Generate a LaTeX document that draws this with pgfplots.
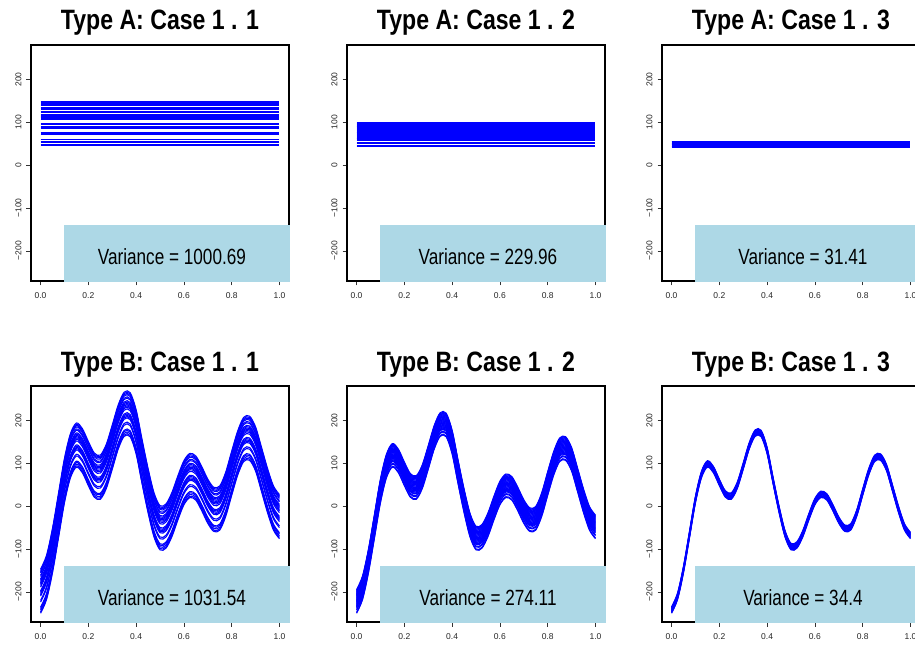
\documentclass[border=0pt]{standalone}
\usepackage{pgfplots}
\pgfplotsset{compat=1.18}
\usepackage{pgfplotstable}
\usepackage{fontspec}
\setmainfont{Liberation Sans}
\newfontfamily\titlefont[FakeStretch=0.825]{Liberation Sans}
\newfontfamily\varfont[FakeStretch=0.78]{Liberation Sans}
\definecolor{lb}{RGB}{173,216,230}
\definecolor{rblue}{RGB}{0,0,255}

% lowest curve of the Type B bundles
\pgfplotstableread{
t b
0 -250
0.025 -218
0.05 -155
0.075 -74
0.1 8
0.125 66
0.15 91
0.175 78
0.2 48
0.225 21
0.25 16
0.275 41
0.3 86
0.325 133
0.35 163
0.375 162
0.4 122
0.425 52
0.45 -15
0.475 -72
0.5 -102
0.525 -98
0.55 -71
0.575 -32
0.6 3
0.625 20
0.65 14
0.675 -11
0.7 -40
0.725 -59
0.75 -56
0.775 -24
0.8 25
0.825 72
0.85 104
0.875 107
0.9 82
0.925 34
0.95 -15
0.975 -56
1.0 -76
}\basecurve

\pgfplotsset{
  panel/.style={
    scale only axis, width=258pt, height=236pt,
    xmin=-0.04, xmax=1.04, ymin=-270.4, ymax=280.4,
    clip=false,
    axis line style={line width=2.4pt},
    xtick={0,0.2,0.4,0.6,0.8,1},
    xticklabels={0.0,0.2,0.4,0.6,0.8,1.0},
    ytick={-200,-100,0,100,200},
    yticklabels={−200,−100,0,100,200},
    tick align=outside, xtick pos=bottom, ytick pos=left,
    major tick length=4.5pt,
    tick style={line width=0.6pt, black!80},
    xticklabel shift=4pt,
    yticklabel shift=1.5pt,
    ticklabel style={font=\fontsize{8.5}{9}\selectfont, text=black!85},
    xticklabel style={anchor=north},
    yticklabel style={rotate=90, anchor=south},
    title style={font=\titlefont\bfseries\fontsize{28}{30}\selectfont,
      anchor=base, at={(0.5,1)}, yshift=9pt},
  },
  hl/.style={rblue, line width=1.1pt, mark=none},
  cv/.style={rblue, line width=1.1pt, mark=none, smooth},
}

\newcommand{\varbox}[1]{%
  \fill[lb] (axis cs:0.1,-140) rectangle ([shift={(1.3pt,-1.3pt)}]rel axis cs:1,0);
  \node[font=\varfont\fontsize{22}{24}\selectfont, anchor=center] at (axis cs:0.55,-214) {#1};
}

\begin{document}
\begin{tikzpicture}[x=1pt,y=1pt]
% ---------- Type A ----------
\begin{axis}[panel, at={(31pt,601pt)}, anchor=north west, title={Type A: Case 1 . 1}]
\pgfplotsinvokeforeach{45,48,52,56,59,71,75,85,88,91,94,97,106,110,113,116,119,122,125,131,134,139,142,145,148}{
  \addplot[hl] coordinates {(0,#1) (1,#1)};
}
\varbox{Variance = 1000.69}
\end{axis}

\begin{axis}[panel, at={(347pt,601pt)}, anchor=north west, title={Type A: Case 1 . 2}]
\pgfplotsinvokeforeach{44,46,51,53,57,59,61,63,65,67,69,71,73,75,77,79,81,83,85,87,89,91,93,95,97,99}{
  \addplot[hl] coordinates {(0,#1) (1,#1)};
}
\varbox{Variance = 229.96}
\end{axis}

\begin{axis}[panel, at={(662pt,601pt)}, anchor=north west, title={Type A: Case 1 . 3}]
\pgfplotsinvokeforeach{41,42.5,44,45.5,47,48.5,50,51.5,53,54.5,56}{
  \addplot[hl] coordinates {(0,#1) (1,#1)};
}
\varbox{Variance = 31.41}
\end{axis}

% ---------- Type B ----------
\begin{axis}[panel, at={(31pt,260pt)}, anchor=north west, title={Type B: Case 1 . 1}]
\pgfplotsinvokeforeach{0,3,7,11,14,26,30,40,43,46,49,52,61,65,68,71,74,77,80,86,89,94,97,100,103}{
  \addplot[cv] table[x=t, y expr=\thisrow{b}+#1] {\basecurve};
}
\varbox{Variance = 1031.54}
\end{axis}

\begin{axis}[panel, at={(347pt,260pt)}, anchor=north west, title={Type B: Case 1 . 2}]
\pgfplotsinvokeforeach{0,2,7,9,13,15,17,19,21,23,25,27,29,31,33,35,37,39,41,43,45,47,49,51,53,55}{
  \addplot[cv] table[x=t, y expr=\thisrow{b}+#1] {\basecurve};
}
\varbox{Variance = 274.11}
\end{axis}

\begin{axis}[panel, at={(662pt,260pt)}, anchor=north west, title={Type B: Case 1 . 3}]
\pgfplotsinvokeforeach{0,1.5,3,4.5,6,7.5,9,10.5,12,13.5,15}{
  \addplot[cv] table[x=t, y expr=\thisrow{b}+#1] {\basecurve};
}
\varbox{Variance = 34.4}
\end{axis}

\pgfresetboundingbox
\path[use as bounding box] (0,0) rectangle (915pt,646pt);
\end{tikzpicture}
\end{document}
